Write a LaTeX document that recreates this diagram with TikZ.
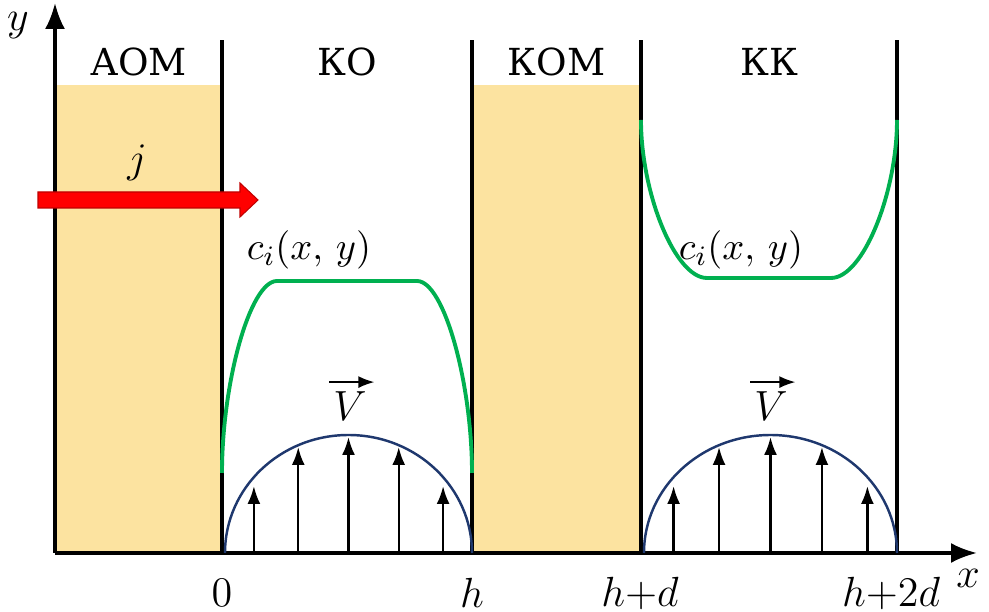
\documentclass[tikz,border=0pt]{standalone}
\usepackage{fontspec}
\newfontfamily\cyrfont{DejaVu Serif}
\usepackage{xcolor}
\usetikzlibrary{arrows.meta}
\definecolor{membrane}{RGB}{252,227,160}
\definecolor{profgreen}{RGB}{0,176,80}
\definecolor{profblue}{RGB}{31,56,110}
\definecolor{fluxred}{RGB}{255,0,0}

\tikzset{
  wall/.style={line width=0.9pt},
  axis/.style={line width=0.9pt, -{Latex[length=2.6mm,width=2mm]}},
  conc/.style={line width=1.1pt, profgreen},
  vel/.style={line width=0.7pt, profblue},
  velarrow/.style={line width=0.7pt, -{Latex[length=1.8mm,width=1.3mm]}},
  vecbar/.style={line width=0.5pt, -{Latex[length=1.6mm,width=1.2mm]}},
  lbl/.style={font=\fontsize{12}{14}\selectfont, inner sep=0pt},
  conclbl/.style={font=\fontsize{10.8}{13}\selectfont, inner sep=0pt},
  cyrlbl/.style={font=\cyrfont\fontsize{10.6}{13}\selectfont, inner sep=0pt},
}

\begin{document}
\begin{tikzpicture}
\useasboundingbox (-0.55,-0.59) rectangle (9.34,5.53);

% membranes
\fill[membrane] (0,0) rectangle (1.67,4.68);
\fill[membrane] (4.17,0) rectangle (5.86,4.68);

% walls
\foreach \w in {1.67,4.17,5.86,8.42}
  \draw[wall] (\w,0) -- (\w,5.13);

% axes
\coordinate (origin) at (0,0);
\coordinate (xend) at (9.22,0);
\coordinate (yend) at (0,5.50);
\draw[axis] (origin) -- (xend);
\draw[axis] (origin) -- (yend);
\node[lbl] (ylab) at (-0.37,5.27) {$y$};
\node[lbl] (xlab) at (9.13,-0.25) {$x$};

% compartment names
\node[cyrlbl] (aom) at (0.835,4.91) {АОМ};
\node[cyrlbl] (ko)  at (2.92,4.91)  {КО};
\node[cyrlbl] (kom) at (5.015,4.91) {КОМ};
\node[cyrlbl] (kk)  at (7.14,4.91)  {КК};

% current
\fill[fluxred, draw=fluxred!75!black, line width=0.3pt]
  (-0.17,3.45) -- (1.85,3.45) -- (1.85,3.36) -- (2.03,3.53)
  -- (1.85,3.70) -- (1.85,3.61) -- (-0.17,3.61) -- cycle;
\node[lbl] (jlab) at (0.82,3.90) {$j$};

% concentration profiles
\draw[conc] (1.67,0.80) .. controls (1.67,1.70) and (1.95,2.72) .. (2.22,2.72)
  -- (3.62,2.72) .. controls (3.89,2.72) and (4.17,1.70) .. (4.17,0.80);
\draw[conc] (5.86,4.33) .. controls (5.86,3.60) and (6.20,2.75) .. (6.52,2.75)
  -- (7.76,2.75) .. controls (8.08,2.75) and (8.42,3.60) .. (8.42,4.33);
\node[conclbl] (cko) at (2.54,3.03) {$c_i(x,\,y)$};
\node[conclbl] (ckk) at (6.86,3.03) {$c_i(x,\,y)$};

% velocity profiles
\foreach \c/\r in {2.935/1.235, 7.155/1.265} {
  \draw[vel] (\c-\r,0) arc[start angle=180, end angle=0, x radius=\r, y radius=1.18];
  \foreach \a/\h in {40/0.67,66/1.06,90/1.16,114/1.06,140/0.67}
    \draw[velarrow] ({\c+\r*cos(\a)},0) -- ({\c+\r*cos(\a)},\h);
}
\node[lbl] (vko) at (2.95,1.47) {$V$};
\node[lbl] (vkk) at (7.16,1.47) {$V$};
\draw[vecbar] ([xshift=-1pt,yshift=2.5pt]vko.north west) -- ([xshift=2pt,yshift=2.5pt]vko.north east);
\draw[vecbar] ([xshift=-1pt,yshift=2.5pt]vkk.north west) -- ([xshift=2pt,yshift=2.5pt]vkk.north east);

% coordinates on x
\node[lbl] (t0)  at (1.67,-0.40) {$0$};
\node[lbl] (th)  at (4.17,-0.40) {$h$};
\node[lbl] (thd) at (5.85,-0.40) {$h{+}d$};
\node[lbl] (th2d) at (8.36,-0.40) {$h{+}2d$};
\end{tikzpicture}
\end{document}
